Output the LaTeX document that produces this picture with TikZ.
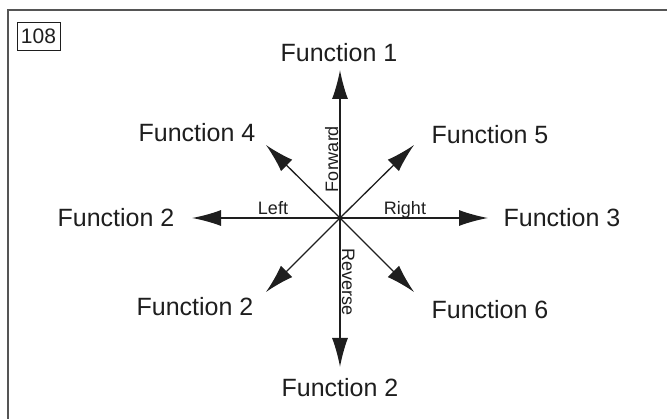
\documentclass[tikz,border=0pt]{standalone}
\usepackage{fontspec}
\setmainfont{Liberation Sans}
\usetikzlibrary{arrows.meta}
\definecolor{DirInk}{HTML}{1E1E1E}
\definecolor{DirFrame}{HTML}{555555}

\begin{document}
\begin{tikzpicture}[x=1pt,y=-1pt,
  fnlabel/.style={font=\fontsize{25}{28}\selectfont,text=DirInk,inner sep=0pt},
  dirlabel/.style={font=\fontsize{18}{20}\selectfont,text=DirInk,inner sep=0pt},
  dirarrow/.style={DirInk,line width=1.3pt,-{Latex[length=29pt,width=16pt]}}]
\path[use as bounding box] (0,0) rectangle (667,419);
% frame and figure number
\draw[DirFrame,line width=1.6pt] (8,419) -- (8,10) -- (667,10);
\node[draw=DirInk,line width=.8pt,minimum width=43pt,minimum height=28pt,inner sep=0pt,
  font=\fontsize{21}{23}\selectfont,text=DirInk] (fignum) at (38.5,36) {108};
% centre and arrow tips
\coordinate (hub) at (340,218);
\coordinate (tipN) at (340,70);
\coordinate (tipS) at (340,367);
\coordinate (tipW) at (192,218);
\coordinate (tipE) at (488,218);
\coordinate (tipNW) at (266,145);
\coordinate (tipNE) at (414,145);
\coordinate (tipSW) at (266,292);
\coordinate (tipSE) at (414,292);
\foreach \t in {tipN,tipS,tipW,tipE,tipNW,tipNE,tipSW,tipSE}
  \draw[dirarrow] (hub) -- (\t);
% function labels
\node[fnlabel] (fnN) at (339,53) {Function 1};
\node[fnlabel] (fnNW) at (197,133) {Function 4};
\node[fnlabel] (fnNE) at (490,135) {Function 5};
\node[fnlabel] (fnW) at (116,218) {Function 2};
\node[fnlabel] (fnE) at (562,218) {Function 3};
\node[fnlabel] (fnSW) at (195,307) {Function 2};
\node[fnlabel] (fnSE) at (490,310) {Function 6};
\node[fnlabel] (fnS) at (340,388) {Function 2};
% direction labels
\node[dirlabel,anchor=base] (dirL) at (273,215) {Left};
\node[dirlabel,anchor=base] (dirR) at (405,215) {Right};
\node[dirlabel,anchor=base,rotate=90] (dirF) at (338,159) {Forward};
\node[dirlabel,anchor=base,rotate=-90] (dirB) at (342,282) {Reverse};
\end{tikzpicture}
\end{document}
